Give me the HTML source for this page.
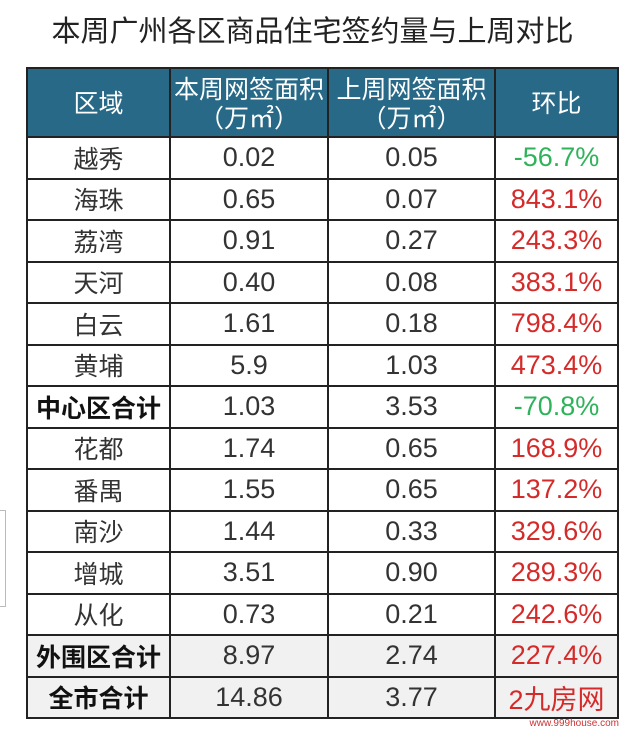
<!DOCTYPE html>
<html><head><meta charset="utf-8"><style>
body{margin:0;width:625px;height:729px;background:#fff;position:relative;overflow:hidden;font-family:"Liberation Sans","Noto Sans CJK SC",sans-serif;}
.title{position:absolute;left:0;width:625px;top:8px;text-align:center;font-size:29px;color:#222;font-family:"Noto Sans CJK SC",sans-serif;}
table{position:absolute;left:26px;top:67px;border-collapse:collapse;table-layout:fixed;}
td,th{border:2px solid #222;text-align:center;padding:0;font-size:27px;color:#333;font-weight:normal;}
th{background:#276987;color:#fff;height:67px;line-height:29px;font-family:"Noto Sans CJK SC",sans-serif;font-size:25px;}
td{height:39.5px;}
td.n{font-family:"Noto Sans CJK SC",sans-serif;font-size:25px;}
td.b{font-weight:bold;color:#111;}
.g{color:#2fb35a}.r{color:#d52a2a}
tr.s td{background:#f1f1f1;}
.side{position:absolute;left:0;top:510px;width:5px;height:95px;border:1px solid #bbb;border-left:none;}
.wm{position:absolute;right:6px;top:718px;font-size:10px;color:#c33;}
</style></head><body>
<div class="title">本周广州各区商品住宅签约量与上周对比</div>
<div class="side"></div>
<table>
<colgroup><col style="width:143px"><col style="width:158px"><col style="width:167px"><col style="width:123px"></colgroup>
<tr><th>区域</th><th>本周网签面积<br>（万㎡）</th><th>上周网签面积<br>（万㎡）</th><th>环比</th></tr>
<tr><td class="n">越秀</td><td>0.02</td><td>0.05</td><td class="g">-56.7%</td></tr>
<tr><td class="n">海珠</td><td>0.65</td><td>0.07</td><td class="r">843.1%</td></tr>
<tr><td class="n">荔湾</td><td>0.91</td><td>0.27</td><td class="r">243.3%</td></tr>
<tr><td class="n">天河</td><td>0.40</td><td>0.08</td><td class="r">383.1%</td></tr>
<tr><td class="n">白云</td><td>1.61</td><td>0.18</td><td class="r">798.4%</td></tr>
<tr><td class="n">黄埔</td><td>5.9</td><td>1.03</td><td class="r">473.4%</td></tr>
<tr><td class="n b">中心区合计</td><td>1.03</td><td>3.53</td><td class="g">-70.8%</td></tr>
<tr><td class="n">花都</td><td>1.74</td><td>0.65</td><td class="r">168.9%</td></tr>
<tr><td class="n">番禺</td><td>1.55</td><td>0.65</td><td class="r">137.2%</td></tr>
<tr><td class="n">南沙</td><td>1.44</td><td>0.33</td><td class="r">329.6%</td></tr>
<tr><td class="n">增城</td><td>3.51</td><td>0.90</td><td class="r">289.3%</td></tr>
<tr><td class="n">从化</td><td>0.73</td><td>0.21</td><td class="r">242.6%</td></tr>
<tr class="s"><td class="n b">外围区合计</td><td>8.97</td><td>2.74</td><td class="r">227.4%</td></tr>
<tr class="s"><td class="n b">全市合计</td><td>14.86</td><td>3.77</td><td class="r">2<span style="font-family:'Noto Sans CJK SC',sans-serif">九房网</span></td></tr>
</table>
<div class="wm">www.999house.com</div>
</body></html>
